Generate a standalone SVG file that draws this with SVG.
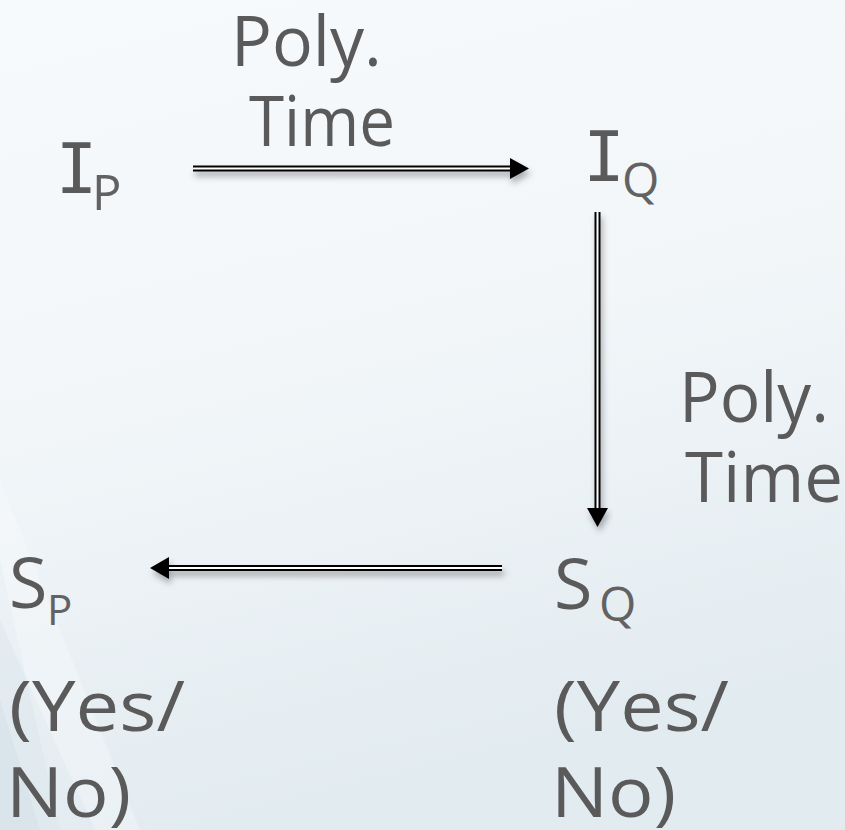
<svg xmlns="http://www.w3.org/2000/svg" width="845" height="830" viewBox="0 0 845 830">
<defs>
<linearGradient id="bg" x1="0" y1="0" x2="0.25" y2="1">
<stop offset="0" stop-color="#f7fafc"/>
<stop offset="0.5" stop-color="#f2f6f9"/>
<stop offset="1" stop-color="#e2ebf0"/>
</linearGradient>
<filter id="sh" x="-20%" y="-50%" width="140%" height="200%">
<feDropShadow dx="2" dy="5" stdDeviation="3" flood-color="#000" flood-opacity="0.3"/>
</filter>
<style>
.t{font-family:"Open Sans","DejaVu Sans",sans-serif;font-size:70px;fill:#5a5a5a}
.i{font-family:"DejaVu Sans Mono","Liberation Mono",monospace;font-size:69px;fill:#5a5a5a;text-anchor:middle}
.s{font-family:"Open Sans","DejaVu Sans",sans-serif;fill:#626262}
.ol{stroke:#000;stroke-width:6;fill:none}
.il{stroke:#fff;stroke-width:2;fill:none}
.hd{fill:#000}
</style>
</defs>
<rect width="845" height="830" fill="url(#bg)"/>
<polygon points="0,560 60,830 0,830" fill="#dbe6ec" opacity="0.5"/>
<polygon points="0,480 140,830 95,830 0,620" fill="#ffffff" opacity="0.25"/>
<polygon points="0,700 40,830 0,830" fill="#d3e0e8" opacity="0.5"/>

<g id="connectors">
<g filter="url(#sh)">
<line class="ol" x1="193" y1="168.5" x2="512" y2="168.5"/>
<line class="il" x1="193" y1="168.5" x2="512" y2="168.5"/>
<polygon class="hd" points="510,158 529,168.5 510,179"/>
</g>
<g filter="url(#sh)">
<line class="ol" x1="597.5" y1="212" x2="597.5" y2="510"/>
<line class="il" x1="597.5" y1="212" x2="597.5" y2="510"/>
<polygon class="hd" points="587,508 608,508 597.5,527"/>
</g>
<g filter="url(#sh)">
<line class="ol" x1="502" y1="568" x2="167" y2="568"/>
<line class="il" x1="502" y1="568" x2="167" y2="568"/>
<polygon class="hd" points="169,557 150,568 169,579"/>
</g>
</g>

<g id="label-top">
<text class="t" x="231" y="66" textLength="151" lengthAdjust="spacingAndGlyphs">Poly.</text>
<text class="t" x="249" y="146" textLength="146" lengthAdjust="spacingAndGlyphs">Time</text>
</g>
<g id="label-right">
<text class="t" x="679" y="422" textLength="150" lengthAdjust="spacingAndGlyphs">Poly.</text>
<text class="t" x="685" y="502" textLength="158" lengthAdjust="spacingAndGlyphs">Time</text>
</g>
<g id="node-IP">
<text class="i" x="76.5" y="193">I</text>
<text class="s" x="92" y="210" font-size="49">P</text>
</g>
<g id="node-IQ">
<text class="i" x="604" y="181">I</text>
<text class="s" x="622" y="197" font-size="48">Q</text>
</g>
<g id="node-SP">
<text class="t" x="9" y="608">S</text>
<text class="s" x="47" y="625" font-size="42">P</text>
</g>
<g id="node-SQ">
<text class="t" x="554" y="609">S</text>
<text class="s" x="599" y="621" font-size="48">Q</text>
</g>
<g id="ans-left">
<text class="t" x="9" y="731" textLength="176" lengthAdjust="spacingAndGlyphs">(Yes/</text>
<text class="t" x="6" y="817" textLength="125" lengthAdjust="spacingAndGlyphs">No)</text>
</g>
<g id="ans-right">
<text class="t" x="554" y="731" textLength="175" lengthAdjust="spacingAndGlyphs">(Yes/</text>
<text class="t" x="551" y="817" textLength="125" lengthAdjust="spacingAndGlyphs">No)</text>
</g>
</svg>
